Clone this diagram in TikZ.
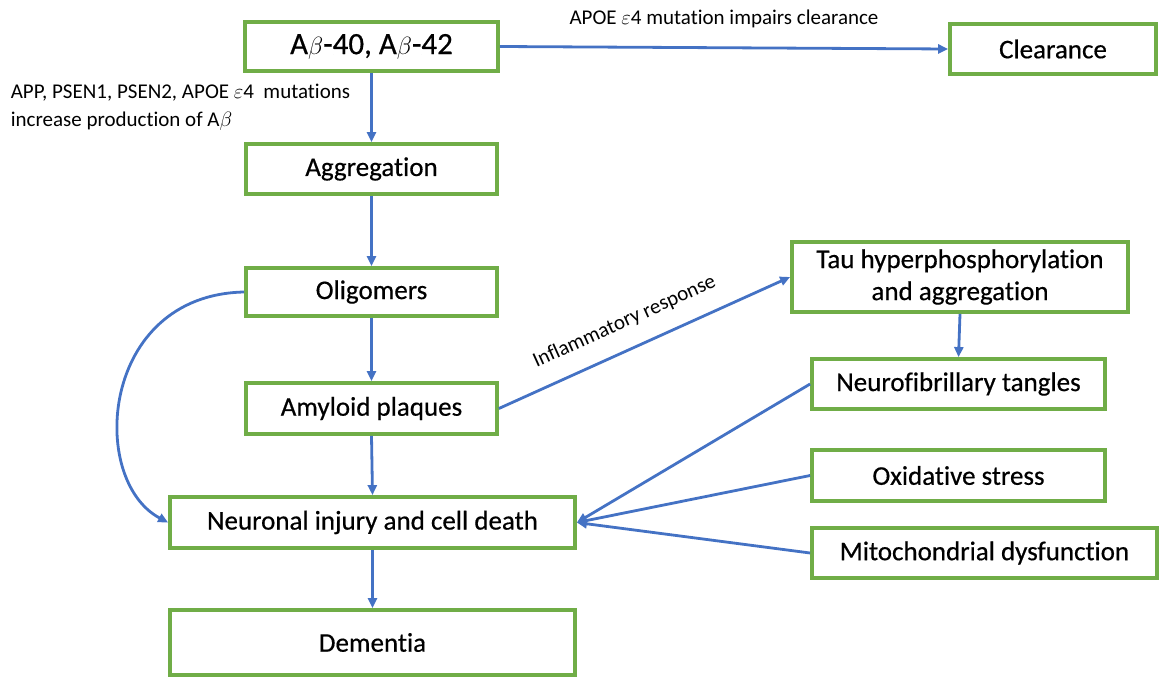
\documentclass[tikz,border=0pt]{standalone}
\usepackage{fontspec}
\setmainfont{Carlito}[Ligatures={NoCommon}]
\newfontface\boxface{Carlito}[Ligatures={NoCommon},FakeBold=0.5]
\usetikzlibrary{arrows.meta}
\definecolor{boxgreen}{HTML}{70AD47}
\definecolor{arrowblue}{HTML}{4472C4}
\begin{document}
\begin{tikzpicture}[x=1pt,y=-1pt,
  box/.style={draw=boxgreen,line width=3.8pt,fill=white,inner sep=0pt,align=center,font=\boxface\fontsize{27}{32}\selectfont},
  conn/.style={draw=arrowblue,line width=2.8pt,-{Triangle[length=10pt,width=9pt]}},
  lbl/.style={font=\fontsize{21}{28}\selectfont,inner sep=0pt}]
\useasboundingbox (0,0) rectangle (1159,679);
\node[box,minimum width=253pt,minimum height=49pt,font=\boxface\fontsize{31}{34}\selectfont] (ab) at (371.5,46.5) {A$\beta$-40, A$\beta$-42};
\node[box,minimum width=206pt,minimum height=50pt] (clear) at (1053,49) {Clearance};
\node[box,minimum width=251pt,minimum height=50pt] (agg) at (371.5,169) {Aggregation};
\node[box,minimum width=251pt,minimum height=48pt] (olig) at (371.5,292) {Oligomers};
\node[box,minimum width=251pt,minimum height=51pt] (amy) at (371.5,408.5) {Amyloid plaques};
\node[box,minimum width=405pt,minimum height=51pt] (neur) at (372.5,522.5) {Neuronal injury and cell death};
\node[box,minimum width=405pt,minimum height=65pt] (dem) at (372.5,642.5) {Dementia};
\node[box,minimum width=336pt,minimum height=70pt] (tau) at (960,277) {Tau hyperphosphorylation\\and aggregation};
\node[box,minimum width=293pt,minimum height=50pt] (nft) at (958.5,384) {Neurofibrillary tangles};
\node[box,minimum width=293pt,minimum height=51pt] (ox) at (958.5,475.5) {Oxidative stress};
\node[box,minimum width=345pt,minimum height=50pt] (mito) at (984.5,553) {Mitochondrial dysfunction};

\draw[conn] (ab.east) -- node[lbl,midway,yshift=29pt] (lclear) {APOE $\varepsilon$4 mutation impairs clearance} (clear.west);
\draw[conn] (ab.south) -- node[lbl,midway,left=20pt,align=left] (lprod) {APP, PSEN1, PSEN2, APOE $\varepsilon$4~ mutations\\increase production of A$\beta$} (agg.north);
\draw[conn] (agg.south) -- (olig.north);
\draw[conn] (olig.south) -- (amy.north);
\draw[conn] (amy.south) -- (neur.north);
\draw[conn] (neur.south) -- (dem.north);
\draw[conn] (olig.west) .. controls (100,295) and (88,480) .. (neur.west);
\draw[conn] (amy.east) -- node[lbl,pos=0.47,sloped,above=17pt,font=\fontsize{21}{24}\selectfont] (linf) {Inflammatory response} (tau.west);
\draw[conn] (tau.south) -- (nft.north);
\draw[conn] (nft.west) -- (neur.east);
\draw[conn] (ox.west) -- (neur.east);
\draw[conn] (mito.west) -- (neur.east);
\end{tikzpicture}
\end{document}
